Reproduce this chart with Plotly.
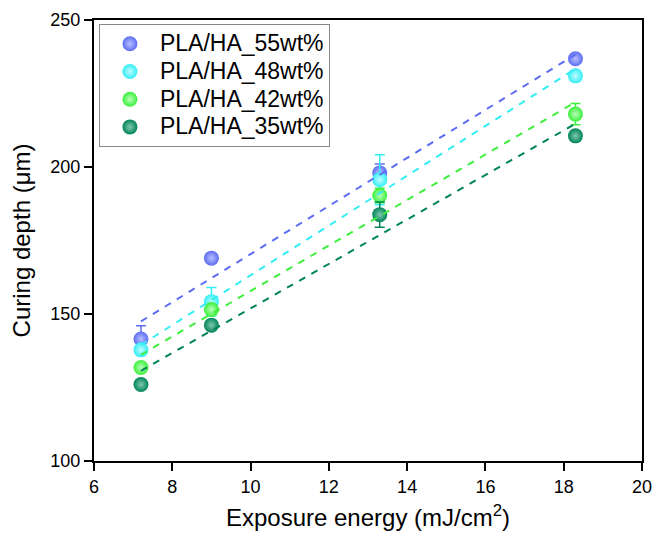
import numpy as np
import plotly.graph_objects as go

exposure = [7.2, 9.0, 13.3, 18.3]
series_names = ["PLA/HA_55wt%", "PLA/HA_48wt%", "PLA/HA_42wt%", "PLA/HA_35wt%"]
depth_55 = [141.5, 169.0, 198.0, 236.8]
depth_48 = [137.8, 154.2, 195.7, 231.0]
depth_42 = [131.8, 151.5, 190.3, 218.0]
depth_35 = [126.0, 146.2, 183.8, 210.6]
err_55 = [4.5, 1.0, 3.0, 1.0]
err_48 = [1.5, 4.8, 8.5, 1.5]
err_42 = [1.0, 1.5, 2.5, 3.6]
err_35 = [1.0, 1.0, 4.3, 1.0]
colors = ["#5d6df2", "#33eef5", "#3cf03c", "#00845a"]
highlights = ["#b8c0ff", "#c0fcff", "#b8ffb8", "#80c8b0"]

depths = [depth_55, depth_48, depth_42, depth_35]
errs = [err_55, err_48, err_42, err_35]

FONT = "Liberation Sans, Arial, sans-serif"
fig = go.Figure()

for name, d, e, c, h in zip(series_names, depths, errs, colors, highlights):
    fig.add_trace(go.Scatter(
        x=exposure, y=d, mode="markers",
        name="<span style='font-size:23px'>" + name + "</span>",
        marker=dict(size=15, color=c, line=dict(width=0),
                    gradient=dict(type="radial", color=h)),
        error_y=dict(type="data", array=e, visible=True, color=c,
                     thickness=1.5, width=5),
    ))

for name, d, c in zip(series_names, depths, colors):
    k, b = np.polyfit(exposure, d, 1)
    xs = [exposure[0], exposure[-1]]
    fig.add_trace(go.Scatter(
        x=xs, y=[k * xv + b for xv in xs], mode="lines", showlegend=False,
        line=dict(color=c, width=2, dash="7px,7px"), hoverinfo="skip",
    ))

axis_common = dict(
    showgrid=False, zeroline=False, showline=True, linecolor="black",
    linewidth=2, mirror=True, ticks="outside", ticklen=8, tickwidth=2,
    tickcolor="black", tickfont=dict(family=FONT, size=18, color="black"),
    automargin=False,
)

fig.update_layout(
    template="none",
    width=654, height=534,
    margin=dict(l=94, r=12, t=20, b=73),
    paper_bgcolor="white", plot_bgcolor="white",
    font=dict(family=FONT, color="black"),
    xaxis=dict(range=[6, 20], dtick=2, tick0=6,
               title=dict(text="Exposure energy (mJ/cm<sup>2</sup>)",
                          font=dict(family=FONT, size=24), standoff=14),
               **axis_common),
    yaxis=dict(range=[100, 250], dtick=50, tick0=100,
               title=dict(text="Curing depth (μm)",
                          font=dict(family=FONT, size=24), standoff=13),
               **axis_common),
    legend=dict(x=0.009, y=0.991, xanchor="left", yanchor="top",
                bgcolor="white", bordercolor="#888888", borderwidth=1,
                font=dict(family=FONT, size=19, color="black"),
                itemwidth=50, tracegroupgap=0),
    showlegend=True,
)

fig.write_html("out.html", config={"displayModeBar": False},
               post_script="document.body.style.margin='0';")
